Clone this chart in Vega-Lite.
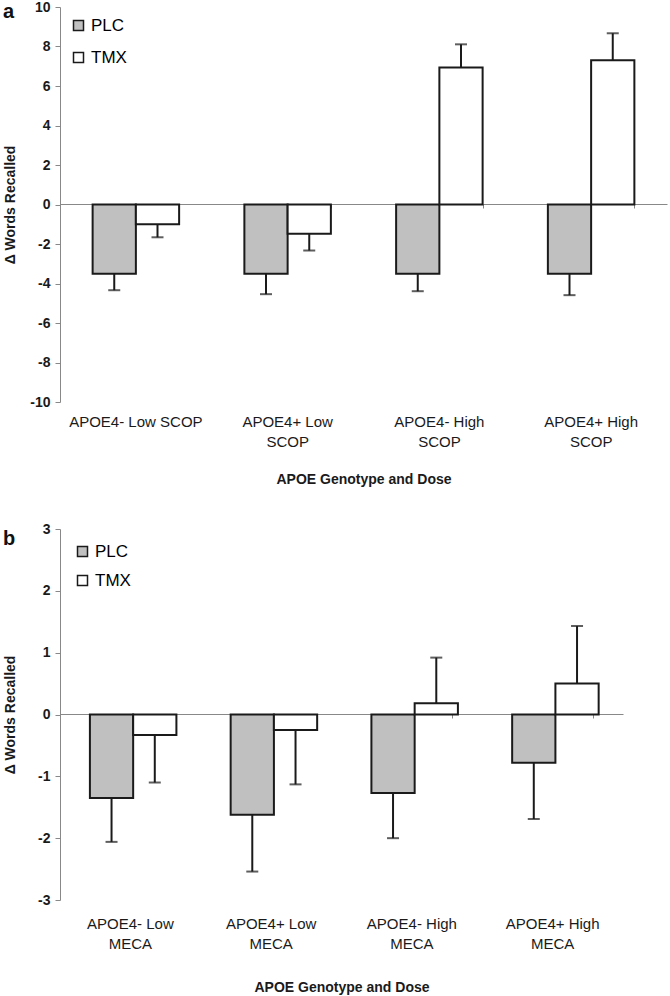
{
  "$schema": "https://vega.github.io/schema/vega-lite/v6.json",
  "padding": {"left": 3, "top": 0, "right": 2, "bottom": 2},
  "background": "white",
  "config": {
    "font": "Liberation Sans",
    "view": {"stroke": null},
    "axis": {"labelFont": "Liberation Sans", "titleFont": "Liberation Sans", "labelColor": "#1a1a1a", "titleColor": "#1a1a1a"},
    "legend": {"labelFont": "Liberation Sans"}
  },
  "resolve": {"scale": {"fill": "independent"}, "legend": {"fill": "independent"}},
  "datasets": {
    "scop": [
      {"cat": "APOE4- Low SCOP", "grp": "PLC", "value": -3.5, "err": -4.34},
      {"cat": "APOE4- Low SCOP", "grp": "TMX", "value": -1.0, "err": -1.66},
      {"cat": "APOE4+ Low SCOP", "grp": "PLC", "value": -3.5, "err": -4.54},
      {"cat": "APOE4+ Low SCOP", "grp": "TMX", "value": -1.48, "err": -2.33},
      {"cat": "APOE4- High SCOP", "grp": "PLC", "value": -3.5, "err": -4.39},
      {"cat": "APOE4- High SCOP", "grp": "TMX", "value": 6.94, "err": 8.11},
      {"cat": "APOE4+ High SCOP", "grp": "PLC", "value": -3.5, "err": -4.59},
      {"cat": "APOE4+ High SCOP", "grp": "TMX", "value": 7.3, "err": 8.67}
    ],
    "meca": [
      {"cat": "APOE4- Low MECA", "grp": "PLC", "value": -1.35, "err": -2.06},
      {"cat": "APOE4- Low MECA", "grp": "TMX", "value": -0.33, "err": -1.1},
      {"cat": "APOE4+ Low MECA", "grp": "PLC", "value": -1.62, "err": -2.54},
      {"cat": "APOE4+ Low MECA", "grp": "TMX", "value": -0.25, "err": -1.13},
      {"cat": "APOE4- High MECA", "grp": "PLC", "value": -1.27, "err": -2.0},
      {"cat": "APOE4- High MECA", "grp": "TMX", "value": 0.18, "err": 0.92},
      {"cat": "APOE4+ High MECA", "grp": "PLC", "value": -0.78, "err": -1.69},
      {"cat": "APOE4+ High MECA", "grp": "TMX", "value": 0.5, "err": 1.43}
    ]
  },
  "vconcat": [
    {
      "width": 607,
      "height": 395,
      "data": {"name": "scop"},
      "title": {"text": "a", "anchor": "start", "frame": "group", "dx": -57, "dy": 22, "offset": 0, "fontSize": 20, "fontWeight": "bold", "color": "#111"},
      "resolve": {"axis": {"x": "independent"}},
      "layer": [
        {
          "mark": {"type": "bar", "stroke": "#1a1a1a", "strokeWidth": 2},
          "encoding": {
            "x": {"field": "cat", "type": "nominal", "sort": null,
                  "scale": {"paddingInner": 0.43, "paddingOuter": 0.215},
                  "axis": {"orient": "bottom", "title": "APOE Genotype and Dose", "domain": false, "ticks": false, "labelAngle": 0,
                           "labelFontSize": 15, "labelLineHeight": 20, "labelPadding": 12, "labelLimit": 300,
                           "titleFontSize": 14, "titleFontWeight": "bold", "titlePadding": 23,
                           "labelExpr": "datum.value == 'APOE4- Low SCOP' ? datum.value : [slice(datum.value, 0, lastindexof(datum.value, ' ')), slice(datum.value, lastindexof(datum.value, ' ') + 1)]"}},
            "xOffset": {"field": "grp", "type": "nominal", "scale": {"paddingInner": 0, "paddingOuter": 0}},
            "y": {"field": "value", "type": "quantitative", "title": "Δ Words Recalled",
                  "scale": {"domain": [-10, 10], "nice": false},
                  "axis": {"values": [-10, -8, -6, -4, -2, 0, 2, 4, 6, 8, 10], "tickCount": 20, "labelExpr": "'' + datum.value", "labelOverlap": false, "grid": false,
                           "domainColor": "#888", "tickColor": "#888", "tickSize": 5, "labelFontSize": 14, "labelFontWeight": "bold", "labelPadding": 5,
                           "titleFontSize": 14, "titleFontWeight": "bold", "titleX": -43}},
            "fill": {"field": "grp", "type": "nominal",
                     "scale": {"domain": ["PLC", "TMX"], "range": ["#c0c0c0", "#ffffff"]},
                     "legend": {"orient": "top-left", "title": null, "offset": 10, "symbolType": "square", "symbolSize": 100,
                                "symbolStrokeColor": "#1a1a1a", "symbolStrokeWidth": 1.5, "labelFontSize": 17, "rowPadding": 14, "labelOffset": 4}}
          }
        },
        {
          "mark": {"type": "rule", "color": "#1a1a1a", "strokeWidth": 2},
          "encoding": {
            "x": {"field": "cat", "type": "nominal", "sort": null, "axis": null},
            "xOffset": {"field": "grp", "type": "nominal"},
            "y": {"field": "value", "type": "quantitative", "title": "Δ Words Recalled"},
            "y2": {"field": "err"}
          }
        },
        {
          "mark": {"type": "tick", "color": "#1a1a1a", "thickness": 2, "size": 12},
          "encoding": {
            "x": {"field": "cat", "type": "nominal", "sort": null,
                  "axis": {"orient": "top", "offset": -197, "labels": false, "title": null, "domainColor": "#888", "domainWidth": 1.2,
                           "tickColor": "#888", "tickBand": "extent", "tickSize": -4}},
            "xOffset": {"field": "grp", "type": "nominal"},
            "y": {"field": "err", "type": "quantitative", "title": "Δ Words Recalled"}
          }
        }
      ]
    },
    {
      "width": 563,
      "height": 371,
      "data": {"name": "meca"},
      "title": {"text": "b", "anchor": "start", "frame": "group", "dx": -57, "dy": 27, "offset": 0, "fontSize": 20, "fontWeight": "bold", "color": "#111"},
      "resolve": {"axis": {"x": "independent"}},
      "layer": [
        {
          "mark": {"type": "bar", "stroke": "#1a1a1a", "strokeWidth": 2},
          "encoding": {
            "x": {"field": "cat", "type": "nominal", "sort": null,
                  "scale": {"paddingInner": 0.425, "paddingOuter": 0.2125},
                  "axis": {"orient": "bottom", "title": "APOE Genotype and Dose", "domain": false, "ticks": false, "labelAngle": 0,
                           "labelFontSize": 15, "labelLineHeight": 20, "labelPadding": 16, "labelLimit": 300,
                           "titleFontSize": 14, "titleFontWeight": "bold", "titlePadding": 29,
                           "labelExpr": "[slice(datum.value, 0, lastindexof(datum.value, ' ')), slice(datum.value, lastindexof(datum.value, ' ') + 1)]"}},
            "xOffset": {"field": "grp", "type": "nominal", "scale": {"paddingInner": 0, "paddingOuter": 0}},
            "y": {"field": "value", "type": "quantitative", "title": "Δ Words Recalled",
                  "scale": {"domain": [-3, 3], "nice": false},
                  "axis": {"values": [-3, -2, -1, 0, 1, 2, 3], "tickCount": 20, "labelExpr": "'' + datum.value", "labelOverlap": false, "grid": false,
                           "domainColor": "#888", "tickColor": "#888", "tickSize": 5, "labelFontSize": 14, "labelFontWeight": "bold", "labelPadding": 5,
                           "titleFontSize": 14, "titleFontWeight": "bold", "titleX": -43}},
            "fill": {"field": "grp", "type": "nominal",
                     "scale": {"domain": ["PLC", "TMX"], "range": ["#c0c0c0", "#ffffff"]},
                     "legend": {"orient": "top-left", "title": null, "offset": 14, "symbolType": "square", "symbolSize": 100,
                                "symbolStrokeColor": "#1a1a1a", "symbolStrokeWidth": 1.5, "labelFontSize": 17, "rowPadding": 11, "labelOffset": 4}}
          }
        },
        {
          "mark": {"type": "rule", "color": "#1a1a1a", "strokeWidth": 2},
          "encoding": {
            "x": {"field": "cat", "type": "nominal", "sort": null, "axis": null},
            "xOffset": {"field": "grp", "type": "nominal"},
            "y": {"field": "value", "type": "quantitative", "title": "Δ Words Recalled"},
            "y2": {"field": "err"}
          }
        },
        {
          "mark": {"type": "tick", "color": "#1a1a1a", "thickness": 2, "size": 12},
          "encoding": {
            "x": {"field": "cat", "type": "nominal", "sort": null,
                  "axis": {"orient": "top", "offset": -185, "labels": false, "title": null, "domainColor": "#888", "domainWidth": 1.2,
                           "tickColor": "#888", "tickBand": "extent", "tickSize": -4}},
            "xOffset": {"field": "grp", "type": "nominal"},
            "y": {"field": "err", "type": "quantitative", "title": "Δ Words Recalled"}
          }
        }
      ]
    }
  ],
  "spacing": 36
}
